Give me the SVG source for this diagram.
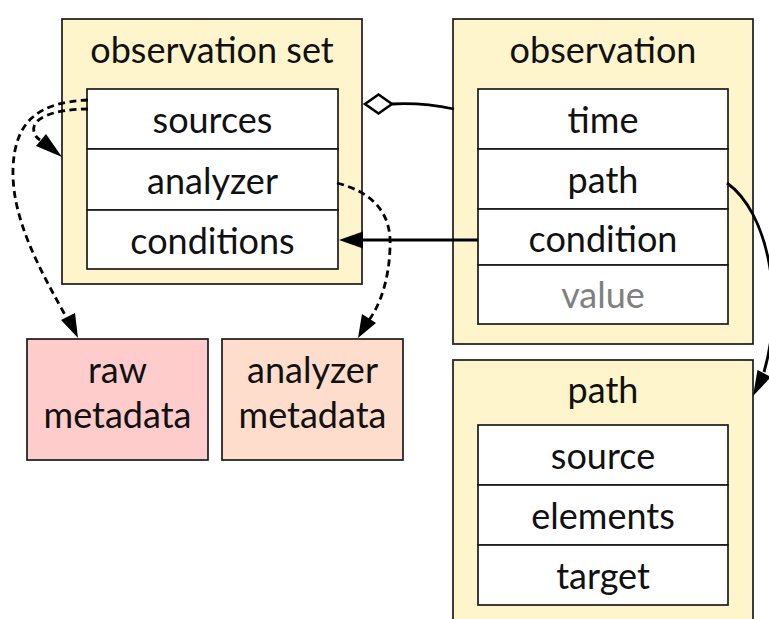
<svg xmlns="http://www.w3.org/2000/svg" width="769" height="619" viewBox="0 0 769 619">
  <style>
    .cluster { fill: #fff5cc; stroke: #1a1a1a; stroke-width: 1.7; }
    .cell { fill: #ffffff; stroke: #1a1a1a; stroke-width: 1.7; }
    .raw { fill: #ffcccc; stroke: #1a1a1a; stroke-width: 1.7; }
    .ana { fill: #ffddcc; stroke: #1a1a1a; stroke-width: 1.7; }
    text { font-family: Lato, "Liberation Sans", sans-serif; font-size: 36px; fill: #111; text-anchor: middle; }
    .dim { fill: #808080; }
    .edge { fill: none; stroke: #000; stroke-width: 2.8; }
    .dash { stroke-dasharray: 7 4.5; }
    .head { fill: #000; }
  </style>

  <!-- observation set -->
  <g id="observation-set">
    <rect class="cluster" x="62" y="19" width="300" height="265"/>
    <text x="212" y="63">observation set</text>
    <rect class="cell" x="87" y="89" width="251" height="60"/>
    <rect class="cell" x="87" y="149" width="251" height="61"/>
    <rect class="cell" x="87" y="210" width="251" height="59"/>
    <text x="212.5" y="133">sources</text>
    <text x="212.5" y="194">analyzer</text>
    <text x="212.5" y="254">conditions</text>
  </g>

  <!-- observation -->
  <g id="observation">
    <rect class="cluster" x="453" y="19" width="300" height="325"/>
    <text x="603" y="63">observation</text>
    <rect class="cell" x="478" y="89" width="250" height="60"/>
    <rect class="cell" x="478" y="149" width="250" height="60"/>
    <rect class="cell" x="478" y="209" width="250" height="56"/>
    <rect class="cell" x="478" y="265" width="250" height="59"/>
    <text x="603" y="133">time</text>
    <text x="603" y="193">path</text>
    <text x="603" y="252">condition</text>
    <text x="603" y="308" class="dim">value</text>
  </g>

  <!-- path -->
  <g id="path">
    <rect class="cluster" x="453" y="360" width="300" height="280"/>
    <text x="603" y="403">path</text>
    <rect class="cell" x="478" y="425" width="250" height="60"/>
    <rect class="cell" x="478" y="485" width="250" height="60"/>
    <rect class="cell" x="478" y="545" width="250" height="60"/>
    <text x="603" y="469">source</text>
    <text x="603" y="529">elements</text>
    <text x="603" y="589">target</text>
  </g>

  <!-- raw metadata -->
  <g id="raw-metadata">
    <rect class="raw" x="27" y="339" width="181" height="121"/>
    <text x="117.5" y="383">raw</text>
    <text x="117.5" y="428">metadata</text>
  </g>

  <!-- analyzer metadata -->
  <g id="analyzer-metadata">
    <rect class="ana" x="222" y="339" width="181" height="121"/>
    <text x="312.5" y="383">analyzer</text>
    <text x="312.5" y="428">metadata</text>
  </g>

  <!-- connectors -->
  <g id="connectors">
    <!-- observation set aggregates observations -->
    <path class="edge" d="M454,109 C430,104 410,103 392,104"/>
    <path d="M365,104 L378.5,94.5 L392,104 L378.5,113.5 z" fill="#fff" stroke="#000" stroke-width="2.6"/>

    <!-- condition -> conditions -->
    <path class="edge" d="M478,240 L362,240"/>
    <path class="head" d="M339,240 L363,231.5 L363,248.5 z"/>

    <!-- path -> path -->
    <path class="edge" d="M727,183 C768,212 785,300 764,372"/>
    <path class="head" d="M753,396 L757.5,370 L771,377 z"/>

    <!-- analyzer -> analyzer metadata -->
    <path class="edge dash" d="M337,183 C375,193 392,215 390,248 C389,280 380,305 369,320"/>
    <path class="head" d="M358,338 L362,314 L376,323 z"/>

    <!-- sources -> raw metadata -->
    <path class="edge dash" d="M88,100 C40,102 14,120 13,170 C12,220 40,270 69,322"/>
    <path class="head" d="M78,338 L61,320 L75,313 z"/>

    <!-- sources -> observation set -->
    <path class="edge dash" d="M88,109 C55,109 30,118 34,132 C35,136 37,138 40,140"/>
    <path class="head" d="M62,157 L36,146 L46,134 z"/>
  </g>
</svg>
